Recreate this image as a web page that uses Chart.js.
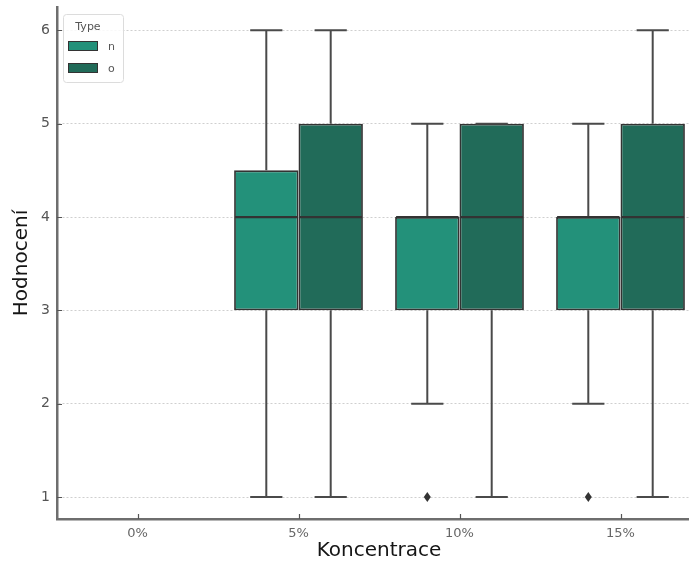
<!DOCTYPE html>
<html>
<head>
<meta charset="utf-8">
<script src="https://cdn.jsdelivr.net/npm/chart.js@4"></script>
<style>
  html, body { margin: 0; padding: 0; overflow: hidden; background: #fff; width: 689px; height: 563px; }
  #wrap { position: absolute; left: 0; top: 0; width: 701px; height: 563px; }
</style>
</head>
<body>
<div id="wrap"><canvas id="c" width="701" height="563"></canvas></div>
<script>
// Categories and ticks
const categories = ['0%', '5%', '10%', '15%'];
const yTicks = [1, 2, 3, 4, 5, 6];

// Type "n": box statistics per concentration
const nQ1 = [null, 3, 3, 3];
const nQ3 = [null, 4.5, 4, 4];
const nMedian = [null, 4, 4, 4];
const nLow = [null, 1, 2, 2];
const nHigh = [null, 6, 5, 5];
const nOutliers = [[], [], [1], [1]];

// Type "o": box statistics per concentration
const oQ1 = [null, 3, 3, 3];
const oQ3 = [null, 5, 5, 5];
const oMedian = [null, 4, 4, 4];
const oLow = [null, 1, 1, 1];
const oHigh = [null, 6, 5, 6];
const oOutliers = [[], [], [], []];

const EDGE = '#333333';
const WHISKER = '#4a4a4a';

function boxes(q1, q3) {
  return q1.map((v, i) => (v == null ? null : [v, q3[i]]));
}

// Whiskers, caps, medians and outliers on top of the floating-bar boxes
const boxWhiskers = {
  id: 'boxWhiskers',
  afterDatasetsDraw(chart) {
    const ctx = chart.ctx;
    const y = chart.scales.y;
    chart.data.datasets.forEach((ds, di) => {
      const meta = chart.getDatasetMeta(di);
      const st = ds.stats;
      meta.data.forEach((bar, i) => {
        if (st.median[i] == null) return;
        const { x, width } = bar.getProps(['x', 'width'], true);
        const yQ1 = y.getPixelForValue(st.q1[i]);
        const yQ3 = y.getPixelForValue(st.q3[i]);
        const yLo = y.getPixelForValue(st.low[i]);
        const yHi = y.getPixelForValue(st.high[i]);
        const yMed = y.getPixelForValue(st.median[i]);
        const half = width / 2;
        const cap = width / 4;
        ctx.save();
        ctx.strokeStyle = WHISKER;
        ctx.lineWidth = 2;
        ctx.beginPath();
        if (yHi < yQ3) { ctx.moveTo(x, yQ3); ctx.lineTo(x, yHi); }
        if (yLo > yQ1) { ctx.moveTo(x, yQ1); ctx.lineTo(x, yLo); }
        ctx.moveTo(x - cap, yHi); ctx.lineTo(x + cap, yHi);
        ctx.moveTo(x - cap, yLo); ctx.lineTo(x + cap, yLo);
        ctx.stroke();
        ctx.strokeStyle = EDGE;
        ctx.lineWidth = 2.2;
        ctx.beginPath();
        ctx.moveTo(x - half + 1, yMed); ctx.lineTo(x + half - 1, yMed);
        ctx.stroke();
        ctx.fillStyle = '#333';
        st.outliers[i].forEach(v => {
          const py = y.getPixelForValue(v);
          ctx.beginPath();
          ctx.moveTo(x, py - 5);
          ctx.lineTo(x + 3.5, py);
          ctx.lineTo(x, py + 5);
          ctx.lineTo(x - 3.5, py);
          ctx.closePath();
          ctx.fill();
        });
        ctx.restore();
      });
    });
  }
};

// Inward tick marks and the in-plot legend
const decorations = {
  id: 'decorations',
  afterDraw(chart) {
    const ctx = chart.ctx;
    const { x, y } = chart.scales;
    const area = chart.chartArea;
    ctx.save();
    ctx.strokeStyle = '#555';
    ctx.lineWidth = 1.2;
    ctx.beginPath();
    yTicks.forEach(v => {
      const py = Math.round(y.getPixelForValue(v)) + 0.5;
      ctx.moveTo(area.left, py); ctx.lineTo(area.left + 5, py);
    });
    categories.forEach((c, i) => {
      const px = Math.round(x.getPixelForValue(i)) + 0.5;
      ctx.moveTo(px, area.bottom); ctx.lineTo(px, area.bottom - 5);
    });
    ctx.stroke();

    // legend box
    const lx = 63, ly = 14, lw = 60, lh = 68;
    ctx.fillStyle = 'rgba(255,255,255,0.85)';
    ctx.strokeStyle = '#dcdcdc';
    ctx.lineWidth = 1;
    ctx.beginPath();
    ctx.roundRect(lx + 0.5, ly + 0.5, lw, lh, 3);
    ctx.fill();
    ctx.stroke();
    ctx.fillStyle = '#555';
    ctx.font = '11px "DejaVu Sans"';
    ctx.textAlign = 'center';
    ctx.textBaseline = 'middle';
    ctx.fillText('Type', 88, 27);
    chart.data.datasets.forEach((ds, di) => {
      const py = 41 + di * 22;
      ctx.fillStyle = ds.backgroundColor;
      ctx.fillRect(68, py, 30, 10);
      ctx.strokeStyle = EDGE;
      ctx.lineWidth = 1;
      ctx.strokeRect(68.5, py + 0.5, 29, 9);
      ctx.fillStyle = '#555';
      ctx.textAlign = 'left';
      ctx.fillText(ds.label, 108, py + 6);
    });
    ctx.restore();
  }
};

new Chart(document.getElementById('c'), {
  type: 'bar',
  data: {
    labels: categories,
    datasets: [
      {
        label: 'n',
        data: boxes(nQ1, nQ3),
        backgroundColor: '#23917a',
        borderColor: EDGE,
        borderWidth: 1.8,
        borderSkipped: false,
        stats: { q1: nQ1, q3: nQ3, median: nMedian, low: nLow, high: nHigh, outliers: nOutliers }
      },
      {
        label: 'o',
        data: boxes(oQ1, oQ3),
        backgroundColor: '#216b59',
        borderColor: EDGE,
        borderWidth: 1.8,
        borderSkipped: false,
        stats: { q1: oQ1, q3: oQ3, median: oMedian, low: oLow, high: oHigh, outliers: oOutliers }
      }
    ]
  },
  options: {
    responsive: false,
    animation: false,
    devicePixelRatio: 1,
    layout: { padding: { top: 7, left: 0, right: 0, bottom: 0 } },
    datasets: { bar: { categoryPercentage: 0.8, barPercentage: 1.0 } },
    plugins: { legend: { display: false }, tooltip: { enabled: false } },
    scales: {
      x: {
        offset: true,
        grid: { display: true, drawOnChartArea: false, drawTicks: false, offset: false },
        border: { color: '#6e6e6e', width: 2.5 },
        ticks: { color: '#666', font: { family: 'DejaVu Sans', size: 13 }, padding: 7 },
        title: {
          display: true, text: 'Koncentrace', color: '#151515',
          font: { family: 'DejaVu Sans', size: 20 }, padding: { top: 0, bottom: 0 }
        },
        afterFit(scale) { scale.height = 44; }
      },
      y: {
        min: 0.765,
        max: 6.25,
        afterBuildTicks(scale) { scale.ticks = yTicks.map(v => ({ value: v })); },
        grid: { color: '#cfcfcf', lineWidth: 1, drawTicks: false },
        border: { color: '#6e6e6e', width: 2.5, dash: [2, 2] },
        ticks: { color: '#555', font: { family: 'DejaVu Sans', size: 14 }, padding: 7 },
        title: {
          display: true, text: 'Hodnocení', color: '#151515',
          font: { family: 'DejaVu Sans', size: 20 }, padding: { top: 10, bottom: 0 }
        },
        afterFit(scale) {
          scale.width = 57;
          scale.paddingTop = 0;
          scale.paddingBottom = 0;
        }
      }
    }
  },
  plugins: [boxWhiskers, decorations]
});
</script>
</body>
</html>
